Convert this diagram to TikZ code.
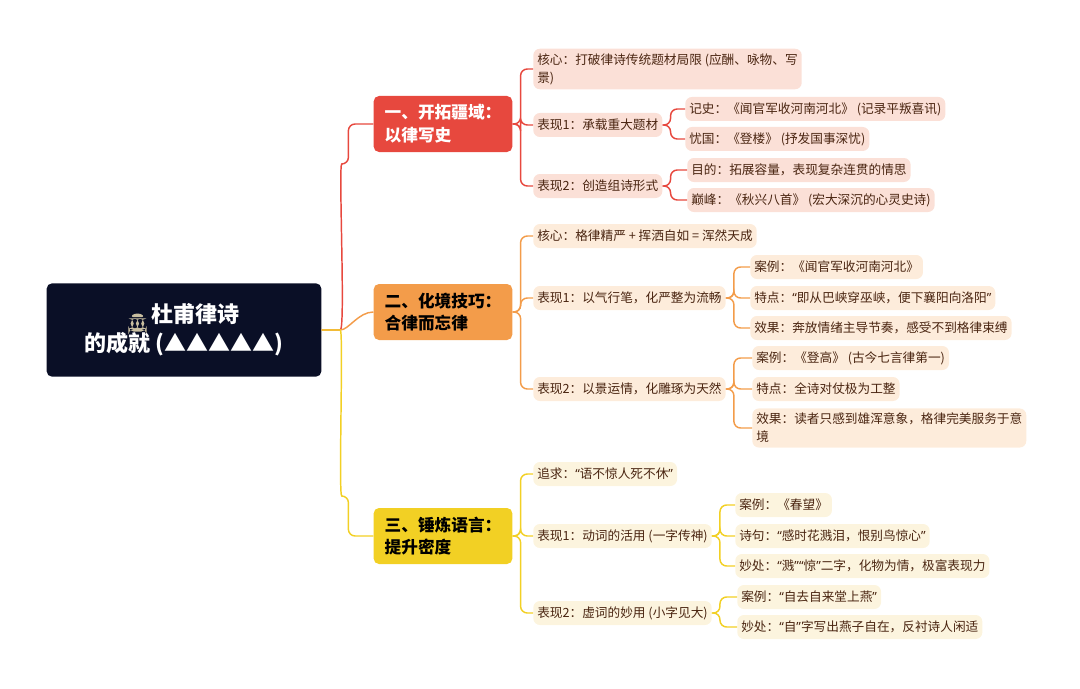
\documentclass[tikz,border=0pt]{standalone}
\usepackage{fontspec}
\setmainfont{Noto Sans CJK SC}
\newfontfamily\quotefont{Noto Sans}
\usetikzlibrary{positioning,calc}
\definecolor{rootcolor}{RGB}{10, 15, 38}
\definecolor{redcolor}{RGB}{231, 72, 62}
\definecolor{orangecolor}{RGB}{243, 156, 74}
\definecolor{yellowcolor}{RGB}{242, 208, 36}
\definecolor{redleaf}{RGB}{251, 224, 215}
\definecolor{orangeleaf}{RGB}{253, 236, 219}
\definecolor{yellowleaf}{RGB}{252, 244, 222}
\definecolor{leaftext}{RGB}{74, 37, 17}
\definecolor{templecolor}{RGB}{200, 190, 160}

\newcommand{\joinup}[3]{\draw[link, #3] (#1.east) -- ++(8,0) |- (#2.west);}
\newcommand{\oq}{{\quotefont “}}
\newcommand{\cq}{{\quotefont ”}}

\begin{document}
\begin{tikzpicture}[
        x=0.75pt, y=-0.75pt,
        rootbox/.style={rectangle, rounded corners=4pt, fill=rootcolor, text=white, font=\bfseries\fontsize{16.5}{22}\selectfont, align=center, minimum width=206pt, minimum height=70pt},
        branch/.style={rectangle, rounded corners=4pt, fill=#1, text=black, font=\bfseries\fontsize{12.5}{17}\selectfont, align=left, minimum width=104pt, minimum height=42pt, inner xsep=8pt},
        leaf/.style={rectangle, rounded corners=5pt, fill=#1, text=leaftext, font=\fontsize{9.5}{13.5}\selectfont, anchor=west, align=left, inner xsep=3pt, inner ysep=3.5pt, minimum height=18pt},
        link/.style={line width=1.1pt, rounded corners=5pt}
    ]
        \useasboundingbox (0,0) rectangle (1080,688);
        
        % Root
        \node[rootbox] (root) at (184,330) {\tikz[baseline={(0,0.13)},x=1cm,y=-1cm,scale=1.4]{\fill[templecolor] (-0.16,-0.1) -- (0,-0.2) -- (0.16,-0.1) -- cycle; \fill[templecolor] (-0.17,0.17) rectangle (0.17,0.12); \foreach \i in {-0.1,0,0.1} \fill[templecolor] (\i-0.03,0.12) rectangle (\i+0.03,-0.08);} 杜甫律诗\\的成就 (▲▲▲▲▲)};
        
        % Branches
        \node[branch=redcolor, text=white] (open) at (443,124) {一、开拓疆域：\\以律写史};
        \node[branch=orangecolor] (blend) at (443,312) {二、化境技巧：\\合律而忘律};
        \node[branch=yellowcolor] (refine) at (443,536) {三、锤炼语言：\\提升密度};
        
        % Branch one leaves
        \node[leaf=redleaf] (open_core) at (533,69) {核心：打破律诗传统题材局限 (应酬、咏物、写\\景)\hspace{185pt}};
        \node[leaf=redleaf] (open_p1) at (533,125) {表现1：承载重大题材};
        \node[leaf=redleaf] (open_p2) at (533,186) {表现2：创造组诗形式};
        \node[leaf=redleaf] (open_hist) at (685,109) {记史：《闻官军收河南河北》 (记录平叛喜讯)};
        \node[leaf=redleaf] (open_worry) at (685,139) {忧国：《登楼》 (抒发国事深忧)};
        \node[leaf=redleaf] (open_aim) at (687,170) {目的：拓展容量，表现复杂连贯的情思};
        \node[leaf=redleaf] (open_peak) at (687,200) {巅峰：《秋兴八首》 (宏大深沉的心灵史诗)};
        
        % Branch two leaves
        \node[leaf=orangeleaf] (blend_core) at (533,236) {核心：格律精严 + 挥洒自如 = 浑然天成};
        \node[leaf=orangeleaf] (blend_p1) at (533,298) {表现1：以气行笔，化严整为流畅};
        \node[leaf=orangeleaf] (blend_p2) at (533,389) {表现2：以景运情，化雕琢为天然};
        \node[leaf=orangeleaf] (blend_c1) at (750,267) {案例：《闻官军收河南河北》};
        \node[leaf=orangeleaf] (blend_f1) at (750,298) {特点：\oq 即从巴峡穿巫峡，便下襄阳向洛阳\cq};
        \node[leaf=orangeleaf] (blend_e1) at (750,328) {效果：奔放情绪主导节奏，感受不到格律束缚};
        \node[leaf=orangeleaf] (blend_c2) at (752,358) {案例：《登高》 (古今七言律第一)};
        \node[leaf=orangeleaf] (blend_f2) at (752,389) {特点：全诗对仗极为工整};
        \node[leaf=orangeleaf] (blend_e2) at (752,428) {效果：读者只感到雄浑意象，格律完美服务于意\\境};
        
        % Branch three leaves
        \node[leaf=yellowleaf] (refine_aim) at (533,474) {追求：\oq 语不惊人死不休\cq};
        \node[leaf=yellowleaf] (refine_p1) at (533,536) {表现1：动词的活用 (一字传神)};
        \node[leaf=yellowleaf] (refine_p2) at (533,613) {表现2：虚词的妙用 (小字见大)};
        \node[leaf=yellowleaf] (refine_c1) at (735,505) {案例：《春望》};
        \node[leaf=yellowleaf] (refine_l1) at (735,536) {诗句：\oq 感时花溅泪，恨别鸟惊心\cq};
        \node[leaf=yellowleaf] (refine_m1) at (735,566) {妙处：\oq 溅\cq\oq 惊\cq 二字，化物为情，极富表现力};
        \node[leaf=yellowleaf] (refine_c2) at (737,597) {案例：\oq 自去自来堂上燕\cq};
        \node[leaf=yellowleaf] (refine_m2) at (737,627) {妙处：\oq 自\cq 字写出燕子自在，反衬诗人闲适};
        
        % Connectors
        \draw[link, redcolor] (root.east) -- ++(12,0) .. controls ++(12,0) and ++(-10,0) .. ($(open.west)+(-25,40)$) |- (open.west);
        \draw[link, orangecolor] (root.east) -- ++(12,0) .. controls ++(15,0) and ++(-15,0) .. (blend.west);
        \draw[link, yellowcolor] (root.east) -- ++(12,0) .. controls ++(10,0) and ++(-10,0) .. ($(refine.west)+(-25,-40)$) |- (refine.west);
        \foreach \kid in {open_core, open_p1, open_p2} {\joinup{open}{\kid}{redcolor}}
        \foreach \kid in {open_hist, open_worry} {\joinup{open_p1}{\kid}{redcolor}}
        \foreach \kid in {open_aim, open_peak} {\joinup{open_p2}{\kid}{redcolor}}
        \foreach \kid in {blend_core, blend_p1, blend_p2} {\joinup{blend}{\kid}{orangecolor}}
        \foreach \kid in {blend_c1, blend_f1, blend_e1} {\joinup{blend_p1}{\kid}{orangecolor}}
        \foreach \kid in {blend_c2, blend_f2, blend_e2} {\joinup{blend_p2}{\kid}{orangecolor}}
        \foreach \kid in {refine_aim, refine_p1, refine_p2} {\joinup{refine}{\kid}{yellowcolor}}
        \foreach \kid in {refine_c1, refine_l1, refine_m1} {\joinup{refine_p1}{\kid}{yellowcolor}}
        \foreach \kid in {refine_c2, refine_m2} {\joinup{refine_p2}{\kid}{yellowcolor}}
        
    \end{tikzpicture}
\end{document}
